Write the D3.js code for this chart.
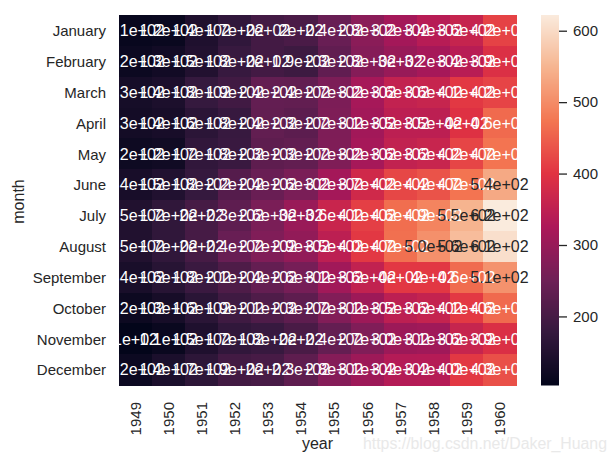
<!DOCTYPE html>
<html><head><meta charset="utf-8">
<script src="https://cdnjs.cloudflare.com/ajax/libs/d3/7.8.5/d3.min.js"></script>
<style>html,body{margin:0;padding:0;background:#fff}svg{display:block}text{font-family:"Liberation Sans",Arial,sans-serif}</style>
</head><body><svg id="c" width="616" height="463"></svg>
<script>
const months = ["January","February","March","April","May","June","July","August","September","October","November","December"];
const years = [1949,1950,1951,1952,1953,1954,1955,1956,1957,1958,1959,1960];
const y1949 = [112,118,132,129,121,135,148,148,136,119,104,118];
const y1950 = [115,126,141,135,125,149,170,170,158,133,114,140];
const y1951 = [145,150,178,163,172,178,199,199,184,162,146,166];
const y1952 = [171,180,193,181,183,218,230,242,209,191,172,194];
const y1953 = [196,196,236,235,229,243,264,272,237,211,180,201];
const y1954 = [204,188,235,227,234,264,302,293,259,229,203,229];
const y1955 = [242,233,267,269,270,315,364,347,312,274,237,278];
const y1956 = [284,277,317,313,318,374,413,405,355,306,271,306];
const y1957 = [315,301,356,348,355,422,465,467,404,347,305,336];
const y1958 = [340,318,362,348,363,435,491,505,404,359,310,337];
const y1959 = [360,342,406,396,420,472,548,559,463,407,362,405];
const y1960 = [417,391,419,461,472,535,622,606,508,461,390,432];
const seriesValues = [y1949,y1950,y1951,y1952,y1953,y1954,y1955,y1956,y1957,y1958,y1959,y1960];
const colorTicks = [200,300,400,500,600];
const keepZero = [305,405,505];
const rocketStops = ["#03051a","#35193e","#701f57","#ad1759","#e13342","#f37651","#f6b48f","#faebdd"];

const M = {l:119, r:516, t:15, b:385};
const svg = d3.select("#c");
const ink = "#262626";
const x = d3.scaleBand().domain(years).range([M.l,M.r]);
const y = d3.scaleBand().domain(months).range([M.t,M.b]);
const vMin = d3.min(seriesValues.flat()), vMax = d3.max(seriesValues.flat());
const rocket = d3.scaleLinear().domain(d3.range(rocketStops.length).map(i=>i/(rocketStops.length-1))).range(rocketStops).interpolate(d3.interpolateRgb);
const color = v => rocket((v-vMin)/(vMax-vMin));
const cells = years.flatMap((yr,i)=>months.map((m,j)=>({yr,m,v:seriesValues[i][j]})));
const fmt = v => { // two significant digits, ties to even, like Python's .2g
  let q = Math.floor(v/10); const r = v%10;
  if (r>5 || (r===5 && q%2===1)) q++;
  const whole = Math.floor(q/10), dec = q%10;
  const body = (dec===0 && !keepZero.includes(v)) ? `${whole}` : `${whole}.${dec}`;
  return body+"e+02";
};
svg.append("g").attr("shape-rendering","crispEdges").selectAll("rect").data(cells).join("rect")
  .attr("x",d=>x(d.yr)).attr("y",d=>y(d.m)).attr("width",x.bandwidth()+.5).attr("height",y.bandwidth()+.5).attr("fill",d=>color(d.v));
svg.append("g").selectAll("text").data(cells).join("text")
  .attr("x",d=>x(d.yr)+x.bandwidth()/2).attr("y",d=>y(d.m)+y.bandwidth()/2).attr("dy","0.36em")
  .attr("text-anchor","middle").attr("font-size",16).attr("fill",d=>d.v>=500?ink:"#fff").text(d=>fmt(d.v));
// axes
const yAxis = d3.axisLeft(y).tickSize(0).tickPadding(13);
const gy = svg.append("g").attr("transform",`translate(${M.l},1)`).call(yAxis);
const xAxis = d3.axisBottom(x).tickSize(0);
const gx = svg.append("g").attr("transform",`translate(0,${M.b})`).call(xAxis);
[gx,gy].forEach(g=>{g.select(".domain").remove();g.selectAll("text").attr("font-size",15).attr("font-family",null).attr("fill",ink);});
gx.selectAll("text").attr("transform","rotate(-90)").attr("text-anchor","end").attr("x",-17).attr("y",0).attr("dy","0.36em");
svg.append("text").attr("x",317.5).attr("y",449).attr("text-anchor","middle").attr("font-size",16).attr("fill",ink).text("year");
svg.append("text").attr("transform","translate(24,201.5) rotate(-90)").attr("text-anchor","middle").attr("font-size",16).attr("fill",ink).text("month");
// colorbar
const cb = {l:541,w:18};
const cy = d3.scaleLinear().domain([vMin,vMax]).range([M.b,M.t]);
svg.append("g").selectAll("rect").data(d3.range(M.t,M.b)).join("rect")
  .attr("x",cb.l).attr("y",d=>d).attr("width",cb.w).attr("height",1.5).attr("fill",d=>color(cy.invert(d+.5)));
const gc = svg.append("g").attr("transform",`translate(${cb.l+cb.w},0)`).call(d3.axisRight(cy).tickValues(colorTicks).tickSize(8).tickPadding(6));
gc.select(".domain").remove();
gc.selectAll("line").attr("stroke",ink).attr("stroke-width",1.3);
gc.selectAll("text").attr("font-size",15).attr("font-family",null).attr("fill",ink);
svg.append("text").attr("x",363).attr("y",449).attr("font-size",16).attr("textLength",244).attr("lengthAdjust","spacingAndGlyphs").attr("fill","#e9e9e9").text("https://blog.csdn.net/Daker_Huang");
</script></body></html>
